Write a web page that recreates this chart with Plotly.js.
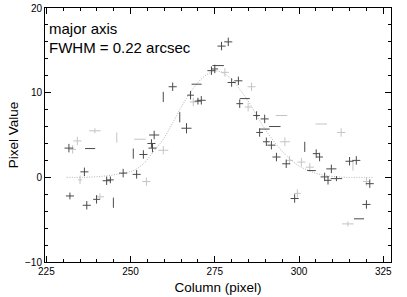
<!DOCTYPE html>
<html>
<head>
<meta charset="utf-8">
<script src="https://cdn.plot.ly/plotly-3.0.1.min.js"></script>
<style>html,body{margin:0;padding:0;background:#fff;}#chart{width:407px;height:297px;}</style>
</head>
<body>
<div id="chart"></div>
<script>
// Dark crosses
var darkX  = [231.7,232.0,236.3,237.0,238.0,239.9,242.9,244.0,244.9,247.8,250.8,251.8,253.8,256.2,256.5,257.0,259.7,262.5,264.6,266.6,267.8,269.6,271.0,270.0,274.0,275.0,276.0,277.0,279.0,280.0,282.0,282.4,283.9,287.4,289.8,288.3,289.8,292.8,290.3,291.8,293.3,296.2,298.7,301.7,303.7,305.1,306.1,307.6,308.6,309.6,311.1,315.0,317.0,321.0,320.0,317.8];
var darkY  = [3.45,-2.2,0.65,-3.3,3.4,-2.6,-0.4,-0.3,-3.0,0.5,2.8,0.35,2.7,4.0,3.45,5.0,9.5,10.7,7.1,5.8,9.7,11.0,9.1,9.0,12.6,12.8,13.2,15.5,16.0,11.2,11.4,8.7,9.3,7.3,6.9,5.3,5.7,6.0,4.2,3.8,2.4,1.6,-2.5,3.6,0.8,2.8,2.4,0.05,-0.35,1.0,-0.15,1.9,2.0,-0.75,-3.2,-4.9];
var darkEx = [1.3,1.2,1.2,1.2,1.5,1.0,1.2,1.0,0,1.2,0,1.2,1.2,1.2,1.2,1.5,0,1.2,0,1.5,1.0,1.5,1.3,1.0,1.2,1.0,1.7,1.2,1.2,1.2,1.2,1.0,1.5,1.0,1.2,1.0,1.5,1.7,1.0,1.2,1.2,1.2,1.2,0,1.3,1.0,1.0,1.2,1.0,1.5,1.7,1.2,1.2,1.2,1.2,1.5];
var darkEy = [0.5,0.4,0.5,0.5,0,0.5,0.5,0.4,0.6,0.5,0.6,0.5,0.5,0.5,0.5,0.5,0.6,0.5,0.6,0.6,0.5,0,0.5,0.4,0.5,0.5,0,0.5,0.5,0.5,0.5,0.5,0,0.5,0.5,0.5,0,0,0.5,0.5,0.5,0.5,0.5,0.6,0,0.5,0.5,0.5,0.5,0.5,0.3,0.5,0.5,0.5,0.5,0];
// Light crosses
var lightX  = [232.8,234.2,235.0,239.4,240.9,245.9,252.8,254.7,259.7,268.6,278.0,284.9,285.9,294.8,295.8,297.2,299.5,300.7,303.2,306.6,312.5,314.5,316.0,320.0];
var lightY  = [3.3,4.3,-0.3,5.5,-2.3,4.7,4.5,-0.5,3.2,8.9,12.4,8.3,10.7,7.3,4.2,2.0,-1.9,1.8,1.2,6.3,5.3,-5.5,1.3,-0.5];
var lightEx = [1.0,1.2,0.6,1.7,1.2,0,1.7,1.2,1.5,1.0,1.2,1.0,1.2,1.7,1.5,1.0,1.0,1.2,1.2,1.7,1.2,1.7,0,1.0];
var lightEy = [0.5,0.5,0.5,0.3,0.4,0.6,0,0.5,0.5,0.5,0.5,0.5,0.5,0,0.5,0.5,0.5,0.5,0.5,0,0.5,0.3,0.5,0.5];
// Fitted profile
var fitX = [231,236,240.9,245.8,250.8,253.8,256.7,259.7,262.6,265.6,268.6,271.5,274.5,276.5,279.4,282.4,285.4,288.3,291.3,294.3,297.2,300.2,303.2,306.1,310.1,314,322];
var fitY = [0,0,0.1,0.35,0.8,1.6,3.0,4.5,6.5,8.7,10.5,11.8,12.5,12.5,11.8,10.4,8.7,6.7,4.9,3.4,2.2,1.3,0.75,0.35,0.1,0,0];

var FONT = "Liberation Sans, Arial, Helvetica, sans-serif";

function crosses(x, y, ex, ey, color) {
  return {
    type: 'scatter', mode: 'markers', x: x, y: y,
    marker: {size: 0.1, color: color, opacity: 0},
    error_x: {type: 'data', array: ex, visible: true, width: 0, thickness: 1, color: color},
    error_y: {type: 'data', array: ey, visible: true, width: 0, thickness: 1, color: color},
    showlegend: false, hoverinfo: 'skip'
  };
}

var traces = [
  {type: 'scatter', mode: 'lines', x: fitX, y: fitY, line: {color: '#a8a8a8', width: 0.9, dash: '1px,1.5px', shape: 'spline'}, showlegend: false},
  crosses(lightX, lightY, lightEx, lightEy, '#c4c4c4'),
  crosses(darkX, darkY, darkEx, darkEy, '#4a4a4a')
];

var axisCommon = {
  showline: true, linecolor: '#000', linewidth: 1, mirror: 'ticks',
  ticks: 'inside', ticklen: 6, tickcolor: '#000', tickwidth: 1,
  showgrid: false, zeroline: false,
  tickfont: {family: FONT, size: 10, color: '#000'}
};

var layout = {
  width: 407, height: 297,
  margin: {l: 45, r: 16, t: 8, b: 35},
  paper_bgcolor: '#fff', plot_bgcolor: '#fff',
  font: {family: FONT, color: '#000'},
  xaxis: Object.assign({}, axisCommon, {
    range: [224.6, 327.3], tickmode: 'linear', tick0: 225, dtick: 25,
    minor: {ticks: 'inside', ticklen: 3, dtick: 5, tick0: 225, tickcolor: '#000'},
    title: {text: 'Column (pixel)', font: {family: FONT, size: 13.5, color: '#000'}, standoff: 6}
  }),
  yaxis: Object.assign({}, axisCommon, {
    range: [-10, 20], tickmode: 'linear', tick0: 0, dtick: 10,
    minor: {ticks: 'inside', ticklen: 3, dtick: 2, tick0: 0, tickcolor: '#000'},
    title: {text: 'Pixel Value', font: {family: FONT, size: 13.5, color: '#000'}, standoff: 3}
  }),
  annotations: [
    {xref: 'paper', yref: 'paper', x: 0.006, y: 0.921, xanchor: 'left', yanchor: 'middle', showarrow: false,
     text: 'major axis', font: {family: FONT, size: 15, color: '#000'}},
    {xref: 'paper', yref: 'paper', x: 0.006, y: 0.846, xanchor: 'left', yanchor: 'middle', showarrow: false,
     text: 'FWHM = 0.22 arcsec', font: {family: FONT, size: 15, color: '#000'}}
  ]
};

Plotly.newPlot('chart', traces, layout, {displayModeBar: false, staticPlot: true});
</script>
</body>
</html>
